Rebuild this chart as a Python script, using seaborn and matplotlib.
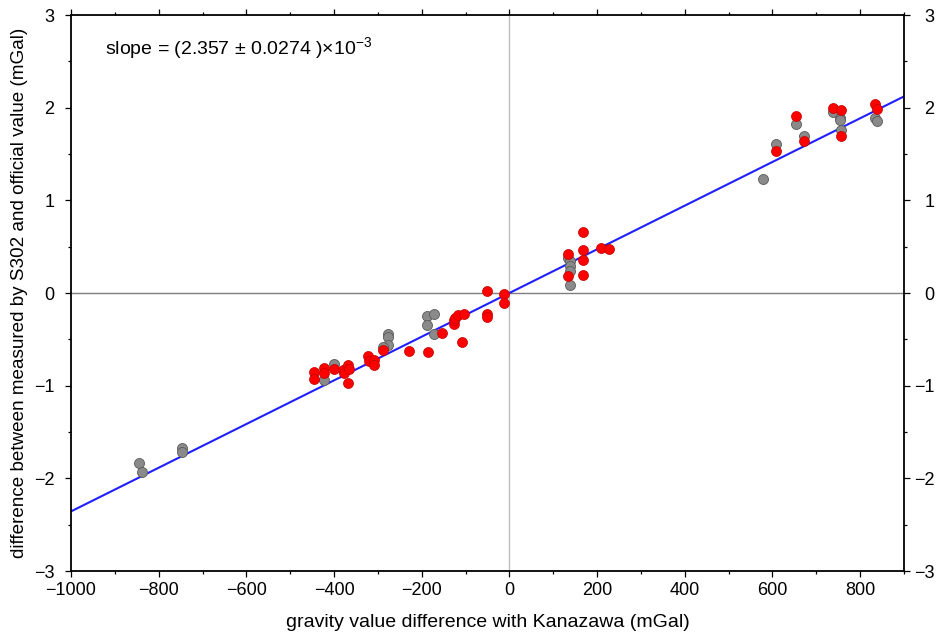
import matplotlib
matplotlib.use("Agg")
import matplotlib.pyplot as plt
from matplotlib.ticker import MultipleLocator
import numpy as np
import pandas as pd
import seaborn as sns

# Gravity difference vs. Kanazawa (mGal) and measured-minus-official difference (mGal)
gray_x = [-845, -837, -746, -746, -423, -399, -277, -277, -277, -289,
          -189, -173, -189, -171, 134, 138, 138, 139, 139,
          578, 609, 653, 672, 737, 754, 754, 756, 833, 839]
gray_y = [-1.83, -1.93, -1.67, -1.72, -0.94, -0.77, -0.44, -0.47, -0.56, -0.58,
          -0.25, -0.23, -0.35, -0.44, 0.38, 0.35, 0.29, 0.24, 0.09,
          1.23, 1.61, 1.82, 1.69, 1.95, 1.89, 1.87, 1.76, 1.89, 1.86]

red_x = [-445, -445, -423, -423, -399, -380, -378, -369, -365, -369,
         -323, -320, -310, -310, -289, -228, -186, -153, -127, -127,
         -123, -117, -104, -108, -51, -51, -51, -12, -12,
         134, 134, 167, 167, 167, 167, 210, 228,
         609, 653, 672, 737, 756, 756, 833, 838]
red_y = [-0.85, -0.93, -0.81, -0.86, -0.82, -0.83, -0.86, -0.78, -0.82, -0.97,
         -0.68, -0.73, -0.72, -0.78, -0.61, -0.63, -0.64, -0.43, -0.33, -0.29,
         -0.27, -0.24, -0.23, -0.53, 0.02, -0.23, -0.26, -0.01, -0.11,
         0.42, 0.18, 0.66, 0.46, 0.36, 0.19, 0.49, 0.48,
         1.53, 1.91, 1.64, 2.00, 1.97, 1.69, 2.04, 1.99]

slope = 2.357e-3
slope_err = 0.0274e-3
intercept = 0.0
x_range = [-1000, 900]
y_range = [-3, 3]

sns.set_theme(style="white")
plt.rcParams["font.family"] = ["Liberation Sans", "DejaVu Sans"]
plt.rcParams["mathtext.default"] = "regular"
plt.rcParams["axes.unicode_minus"] = True
plt.rcParams["text.color"] = "black"
plt.rcParams["axes.labelcolor"] = "black"
plt.rcParams["xtick.color"] = "black"
plt.rcParams["ytick.color"] = "black"

fig = plt.figure(figsize=(9.4, 6.37), dpi=100)
ax = fig.add_axes([71 / 940, 1 - 571 / 637, 833 / 940, 556 / 637])

# zero reference lines
ax.axvline(0, color="#bdbdbd", lw=1.0, zorder=1)
ax.axhline(0, color="#7f7f7f", lw=1.0, zorder=1)

# fitted line
fit = pd.DataFrame({"x": x_range})
fit["y"] = slope * fit["x"] + intercept
sns.lineplot(data=fit, x="x", y="y", color="#1f1fff", lw=1.5, ax=ax, zorder=2)

gray_df = pd.DataFrame({"x": gray_x, "y": gray_y})
red_df = pd.DataFrame({"x": red_x, "y": red_y})
sns.scatterplot(data=gray_df, x="x", y="y", color="#8a8a8a", edgecolor="#5a5a5a",
                linewidth=0.6, s=52, ax=ax, zorder=3)
sns.scatterplot(data=red_df, x="x", y="y", color="#ff0000", edgecolor="#c00000",
                linewidth=0.5, s=52, ax=ax, zorder=4)

ax.set_xlim(*x_range)
ax.set_ylim(*y_range)
ax.xaxis.set_major_locator(MultipleLocator(200))
ax.xaxis.set_minor_locator(MultipleLocator(100))
ax.yaxis.set_major_locator(MultipleLocator(1))
ax.yaxis.set_minor_locator(MultipleLocator(0.5))

for s in ax.spines.values():
    s.set_color("black")
    s.set_linewidth(1.3)

ax.tick_params(axis="both", which="both", direction="out", color="black",
               labelsize=13, width=0.9)
ax.tick_params(which="major", length=4)
ax.tick_params(which="minor", length=2.5)
ax.tick_params(axis="x", which="both", top=True, bottom=True, labeltop=False, pad=4)
ax.tick_params(axis="y", which="both", left=True, right=False, labelright=False, pad=8)

# right-hand axis repeats the y scale, labels right-aligned near the figure edge
ax_r = ax.twinx()
ax_r.set_ylim(*y_range)
ax_r.yaxis.set_major_locator(MultipleLocator(1))
ax_r.yaxis.set_minor_locator(MultipleLocator(0.5))
ax_r.tick_params(axis="y", which="both", direction="out", color="black",
                 labelsize=13, width=0.9, pad=18)
ax_r.tick_params(which="major", length=4)
ax_r.tick_params(which="minor", length=2.5)
for lab in ax_r.get_yticklabels():
    lab.set_horizontalalignment("right")
ax_r.grid(False)
for s in ax_r.spines.values():
    s.set_visible(False)

ax.set_xlabel("gravity value difference with Kanazawa (mGal)", fontsize=14, labelpad=11)
ax.set_ylabel("difference between measured by S302 and official value (mGal)",
              fontsize=13.6, labelpad=4)

ax.text(0.041, 0.94, "slope = (2.357 ± 0.0274 )×10$^{-3}$", transform=ax.transAxes,
        fontsize=14, ha="left", va="center")

fig.savefig("out.png", dpi=100)
